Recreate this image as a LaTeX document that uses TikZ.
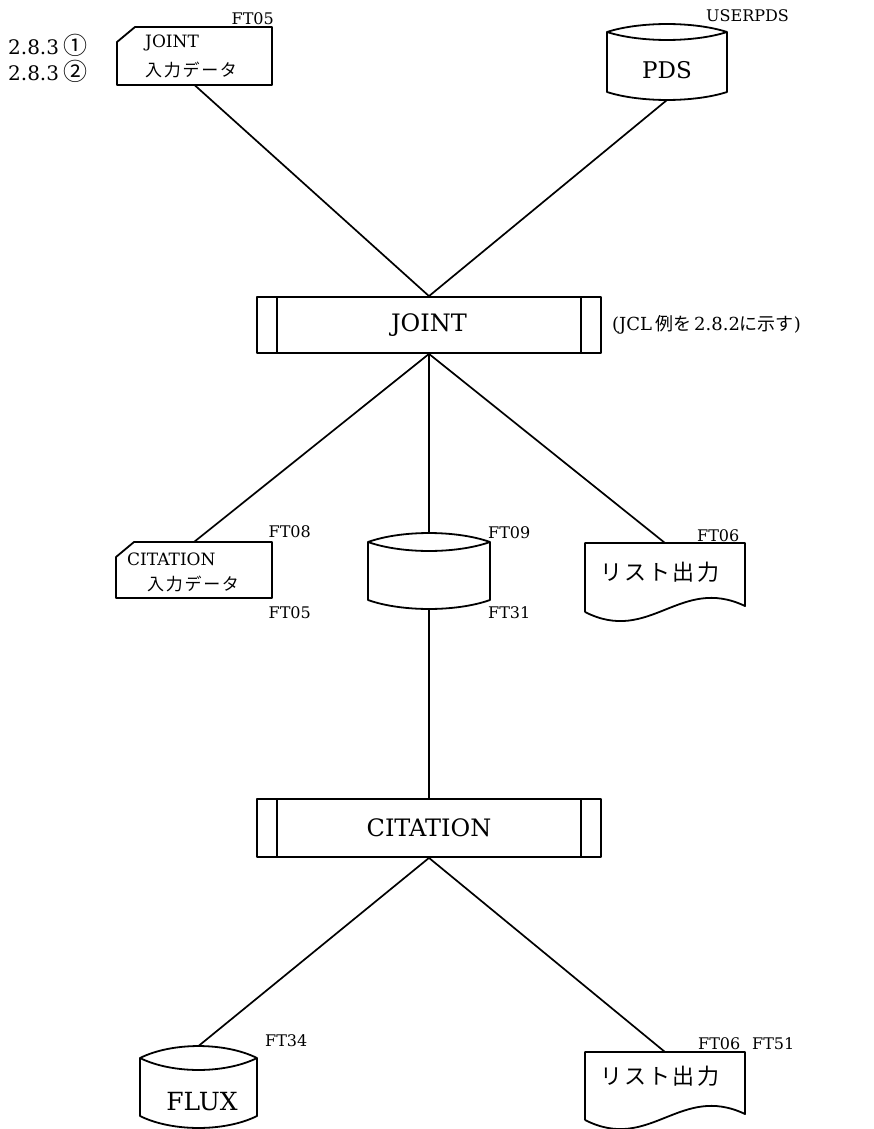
\documentclass[tikz,border=0pt]{standalone}
\usepackage{fontspec}
\setmainfont{DejaVu Serif}
\newfontfamily\jp{Noto Sans CJK JP}
\newfontfamily\jpls[LetterSpace=10]{Noto Sans CJK JP}
\usetikzlibrary{calc}
\newcommand\cylpath[4]{%
 \draw[shp] ([shift={(-#2,-#3)}]#1.center)
 .. controls +({0.55*#2},{-1.33*#4}) and +({-0.55*#2},{-1.33*#4}) .. ([shift={(#2,-#3)}]#1.center)
 .. controls +({-0.55*#2},{1.33*#4}) and +({0.55*#2},{1.33*#4}) .. ([shift={(-#2,-#3)}]#1.center)
 -- ([shift={(-#2,#3)}]#1.center)
 .. controls +({0.55*#2},{1.33*#4}) and +({-0.55*#2},{1.33*#4}) .. ([shift={(#2,#3)}]#1.center)
 -- ([shift={(#2,-#3)}]#1.center);}
\newcommand\docpath[1]{%
 \draw[shp] (#1.south west) -- (#1.north west) -- (#1.north east) -- ([shift={(0,-6)}]#1.south east)
 .. controls +(-65,-31) and +(65,33) .. (#1.south west);}
\newcommand\cardpath[1]{%
 \draw[shp] ([shift={(0,15)}]#1.north west) -- ([shift={(18,0)}]#1.north west) -- (#1.north east) -- (#1.south east) -- (#1.south west) -- cycle;}
\newcommand\boxbars[1]{%
 \draw[shp] ([shift={(21,0)}]#1.north west) -- ([shift={(21,0)}]#1.south west)
 ([shift={(-21,0)}]#1.north east) -- ([shift={(-21,0)}]#1.south east);}
\newcommand\circnum[1]{{\jp\fontsize{24}{24}\selectfont #1}}
\begin{document}
\begin{tikzpicture}[x=1pt,y=-1pt,
 shp/.style={line width=1.8pt, line join=round},
 conn/.style={line width=1.7pt},
 ghost/.style={draw=none, inner sep=0pt, outer sep=0pt},
 procbox/.style={draw, shp, minimum width=344pt, minimum height=56pt, inner sep=0pt, font=\fontsize{24}{24}\selectfont},
 ft/.style={inner sep=0pt, font=\fontsize{16}{16}\selectfont},
 lbl/.style={inner sep=0pt, anchor=west},
 cardtxt/.style={lbl, font=\fontsize{17}{17}\selectfont},
 cardjp/.style={lbl, font=\jpls\fontsize{17}{17}\selectfont},
 listjp/.style={lbl, font=\jpls\fontsize{22}{22}\selectfont},
 cyltxt/.style={inner sep=0pt, font=\fontsize{23}{23}\selectfont}]
\useasboundingbox (0,0) rectangle (873,1129);
\fill[white] (0,0) rectangle (873,1129);

% ---- top input card
\node[ghost, minimum width=155pt, minimum height=58pt] (card1) at (194.5,56) {};
\cardpath{card1}
\node[cardtxt] (c1a) at (145,43) {JOINT};
\node[cardjp] (c1b) at (145,70) {入力データ};
\node[ft, anchor=base east] (f1) at (274,25) {FT05};
\node[lbl, font=\fontsize{20}{20}\selectfont] (r1) at (8,45) {2.8.3\kern4pt\circnum{①}};
\node[lbl, font=\fontsize{20}{20}\selectfont] (r2) at (8,71) {2.8.3\kern4pt\circnum{②}};

% ---- PDS
\node[ghost, minimum width=120pt, minimum height=76pt] (pds) at (667,62) {};
\cylpath{pds}{60}{30}{8}
\node[cyltxt] (pdst) at (667,70) {PDS};
\node[ft, anchor=base west] (f2) at (706,22) {USERPDS};

% ---- JOINT
\node[procbox] (jb) at (429,325) {JOINT};
\boxbars{jb}
\node[lbl, font=\fontsize{18}{18}\selectfont] (jcl) at (612,325) {(JCL\,{\jp 例を}\,2.8.2{\jp に示す})};

% ---- middle row
\node[ghost, minimum width=156pt, minimum height=56pt] (card2) at (194,570) {};
\cardpath{card2}
\node[cardtxt] (c2a) at (127,559) {CITATION};
\node[cardjp] (c2b) at (147,584) {入力データ};
\node[ft, anchor=base east] (f3) at (311,537) {FT08};
\node[ft, anchor=base east] (f4) at (311,618) {FT05};

\node[ghost, minimum width=122pt, minimum height=76pt] (c2) at (429,571) {};
\cylpath{c2}{61}{29}{9}
\node[ft, anchor=base west] (f5) at (488,538) {FT09};
\node[ft, anchor=base west] (f6) at (488,618) {FT31};

\node[ghost, minimum width=160pt, minimum height=69pt] (doc1) at (665,577.5) {};
\docpath{doc1}
\node[listjp] (d1t) at (600,572) {リスト出力};
\node[ft, anchor=base west] (f7) at (697,541) {FT06};

% ---- CITATION
\node[procbox, minimum height=58pt] (cb) at (429,828) {CITATION};
\boxbars{cb}

% ---- bottom row
\node[ghost, minimum width=117pt, minimum height=82pt] (flux) at (198.5,1087) {};
\cylpath{flux}{58.5}{29}{12}
\node[cyltxt, font=\fontsize{25}{25}\selectfont] (fluxt) at (202,1102) {FLUX};
\node[ft, anchor=base west] (f8) at (265,1046) {FT34};

\node[ghost, minimum width=160pt, minimum height=68pt] (doc2) at (665,1086) {};
\docpath{doc2}
\node[listjp] (d2t) at (600,1076) {リスト出力};
\node[ft, anchor=base west] (f9) at (698,1049) {FT06};
\node[ft, anchor=base west] (f10) at (752,1049) {FT51};

% ---- connectors
\draw[conn] (card1.south) -- (jb.north);
\draw[conn] (pds.south) -- (jb.north);
\draw[conn] (jb.south) -- (card2.north);
\draw[conn] (jb.south) -- (c2.north);
\draw[conn] (jb.south) -- (doc1.north);
\draw[conn] (c2.south) -- (cb.north);
\draw[conn] (cb.south) -- (flux.north);
\draw[conn] (cb.south) -- (doc2.north);
\end{tikzpicture}
\end{document}
